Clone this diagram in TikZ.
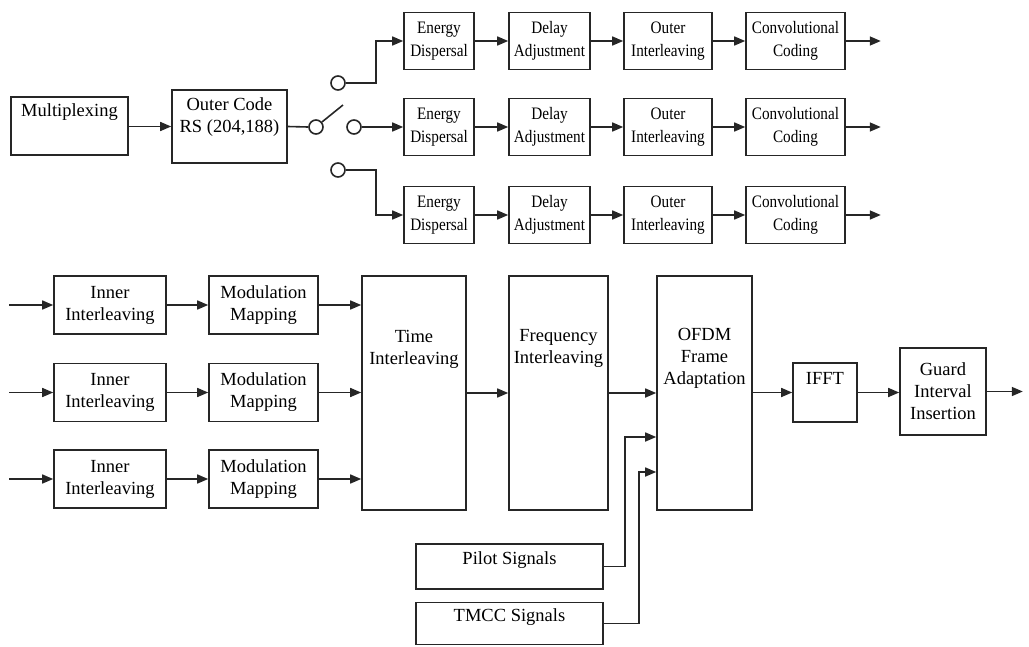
\documentclass[tikz,border=0pt]{standalone}
\usepackage{fontspec}
\setmainfont{Liberation Serif}
\newfontfamily\narrowfont[FakeStretch=0.87]{Liberation Serif}
\usetikzlibrary{arrows.meta}
\begin{document}
\begin{tikzpicture}[x=1pt,y=-1pt,
  every node/.style={font=\fontsize{18.5}{22}\selectfont},
  box/.style={draw=black!85, line width=1.6pt, rectangle, inner sep=0pt, align=center},
  nbox/.style={box, font=\narrowfont\fontsize{17.5}{23}\selectfont},
  txt/.style={inner sep=0pt, align=center},
  arr/.style={draw=black!85, line width=1.6pt, -{Triangle[length=11pt,width=9pt]}},
  ln/.style={draw=black!85, line width=1.6pt},
  sw/.style={circle, draw=black!85, line width=1.6pt, minimum size=14pt, inner sep=0pt}]
\useasboundingbox (0,0) rectangle (1029,646);

% --- top-left
\node[box, minimum width=117, minimum height=58] (mux) at (69.5,126) {};
\node[txt] (muxT) at ([yshift=14pt]mux.center) {Multiplexing};
\node[box, minimum width=115, minimum height=73] (outer) at (229.5,126.5) {};
\node[txt] (outerT) at ([yshift=9pt]outer.center) {Outer Code\\RS (204,188)};
\draw[arr] (mux.east |- outer.west) -- (outer.west);

% --- switch
\node[sw] (s0) at (316,127) {};
\node[sw] (s1) at (338,83) {};
\node[sw] (s2) at (354,127) {};
\node[sw] (s3) at (338,170) {};
\coordinate (blade) at (343,105);
\draw[ln] (outer.east) -- (s0.west);
\draw[ln] (s0.40) -- (blade);

% --- three top rows
\foreach \r/\y in {1/41,2/127,3/215}{
  \node[nbox, minimum width=70, minimum height=57] (e\r) at (439,\y) {Energy\\Dispersal};
  \node[nbox, minimum width=81, minimum height=57] (d\r) at (549.5,\y) {Delay\\Adjustment};
  \node[nbox, minimum width=88, minimum height=57] (o\r) at (668,\y) {Outer\\Interleaving};
  \node[nbox, minimum width=99, minimum height=57] (c\r) at (795.5,\y) {Convolutional\\Coding};
  \draw[arr] (e\r) -- (d\r);
  \draw[arr] (d\r) -- (o\r);
  \draw[arr] (o\r) -- (c\r);
  \draw[arr] (c\r.east) -- ++(35,0);
}
\draw[arr] (s1.east) -- ++(30,0) |- (e1.west);
\draw[arr] (s2.east) -- (e2.west);
\draw[arr] (s3.east) -- ++(30,0) |- (e3.west);

% --- bottom part
\node[box, minimum width=104, minimum height=234] (time) at (414,393) {};
\node[txt] (timeT) at ([yshift=44pt]time.center) {Time\\Interleaving};
\node[box, minimum width=99, minimum height=234] (freq) at (558.5,393) {};
\node[txt] (freqT) at ([yshift=45pt]freq.center) {Frequency\\Interleaving};
\node[box, minimum width=95, minimum height=234] (ofdm) at (704.5,393) {};
\node[txt] (ofdmT) at ([yshift=35pt]ofdm.center) {OFDM\\Frame\\Adaptation};
\node[box, minimum width=64, minimum height=59] (ifft) at (825,392.5) {};
\node[txt] (ifftT) at ([yshift=14pt]ifft.center) {IFFT};
\node[box, minimum width=86, minimum height=87] (guard) at (943,391.5) {Guard\\Interval\\Insertion};

\foreach \r/\y in {1/305,2/392.5,3/479}{
  \node[box, minimum width=112, minimum height=58] (i\r) at (110,\y) {Inner\\Interleaving};
  \node[box, minimum width=109, minimum height=58] (m\r) at (263.5,\y) {Modulation\\Mapping};
  \draw[arr] ([xshift=-44pt]i\r.west) -- (i\r.west);
  \draw[arr] (i\r) -- (m\r);
  \draw[arr] (m\r.east) -- (m\r.east -| time.west);
}
\draw[arr] (time) -- (freq);
\draw[arr] (freq) -- (ofdm);
\draw[arr] (ofdm.east |- ifft.west) -- (ifft.west);
\draw[arr] (ifft.east) -- (ifft.east -| guard.west);
\draw[arr] (guard.east) -- ++(36,0);

\node[box, minimum width=187, minimum height=45] (pilot) at (509.5,566.5) {};
\node[txt] (pilotT) at ([yshift=6pt]pilot.center) {Pilot Signals};
\node[box, minimum width=187, minimum height=42] (tmcc) at (509.5,623.5) {};
\node[txt] (tmccT) at ([yshift=6pt]tmcc.center) {TMCC Signals};
\coordinate (pin) at ([yshift=-44pt]ofdm.west);
\coordinate (tin) at ([yshift=-79pt]ofdm.west);
\draw[arr] (pilot.east) -- ++(21,0) |- (pin);
\draw[arr] (tmcc.east) -- ++(35,0) |- (tin);
\end{tikzpicture}
\end{document}
